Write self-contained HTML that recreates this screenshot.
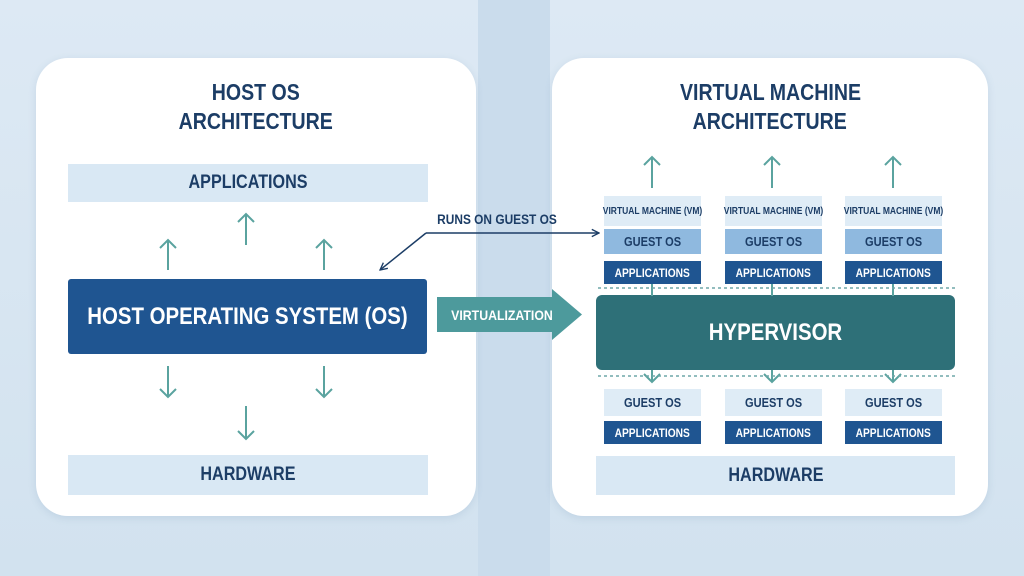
<!DOCTYPE html>
<html><head><style>
body{margin:0;width:1024px;height:576px;overflow:hidden;font-family:"Liberation Sans",sans-serif;background:linear-gradient(180deg,#dde9f4,#d2e2ef);position:relative}
div{position:absolute;box-sizing:border-box;display:flex;align-items:center;justify-content:center;text-align:center;font-weight:bold;white-space:nowrap}
.p{background:#fff;border-radius:32px;box-shadow:0 2px 8px rgba(80,120,160,.15)}
.t{color:#1c3d66;font-size:23px;line-height:29px;flex-direction:column}
.l{background:#d9e8f4;color:#1c3d66;font-size:19px}
.d{background:#1f5591;color:#fff;font-size:12px}
.m{background:#8fb9df;color:#1c3d66;font-size:13px}
.v{background:#dfecf6;color:#1c3d66;font-size:10px}
span{display:inline-block;transform:scaleX(.85);white-space:nowrap}
</style></head><body>
<div style="left:478px;top:0;width:72px;height:576px;background:#cadcec"></div>
<div class="p" style="left:36px;top:58px;width:440px;height:458px"></div>
<div class="p" style="left:552px;top:58px;width:436px;height:458px"></div>
<div class="t" style="left:36px;top:78px;width:440px"><span>HOST OS</span><span>ARCHITECTURE</span></div>
<div class="t" style="left:552px;top:78px;width:436px"><span>VIRTUAL MACHINE</span><span>ARCHITECTURE</span></div>
<div class="l" style="left:68px;top:164px;width:360px;height:38px"><span>APPLICATIONS</span></div>
<div style="left:68px;top:279px;width:359px;height:75px;background:#1f5591;color:#fff;font-size:24px;border-radius:3px"><span>HOST OPERATING SYSTEM (OS)</span></div>
<div class="l" style="left:68px;top:455px;width:360px;height:40px"><span>HARDWARE</span></div>
<div style="left:596px;top:295px;width:359px;height:75px;background:#2e7078;color:#fff;font-size:24px;border-radius:6px"><span>HYPERVISOR</span></div>
<div class="l" style="left:596px;top:456px;width:359px;height:39px"><span>HARDWARE</span></div>
<div class="v" style="left:604px;top:196px;width:97px;height:30px"><span>VIRTUAL MACHINE (VM)</span></div>
<div class="v" style="left:725px;top:196px;width:97px;height:30px"><span>VIRTUAL MACHINE (VM)</span></div>
<div class="v" style="left:845px;top:196px;width:97px;height:30px"><span>VIRTUAL MACHINE (VM)</span></div>
<div class="m" style="left:604px;top:229px;width:97px;height:25px"><span>GUEST OS</span></div>
<div class="m" style="left:725px;top:229px;width:97px;height:25px"><span>GUEST OS</span></div>
<div class="m" style="left:845px;top:229px;width:97px;height:25px"><span>GUEST OS</span></div>
<div class="d" style="left:604px;top:261px;width:97px;height:23px"><span>APPLICATIONS</span></div>
<div class="d" style="left:725px;top:261px;width:97px;height:23px"><span>APPLICATIONS</span></div>
<div class="d" style="left:845px;top:261px;width:97px;height:23px"><span>APPLICATIONS</span></div>
<div class="v" style="left:604px;top:389px;width:97px;height:27px;font-size:13px"><span>GUEST OS</span></div>
<div class="v" style="left:725px;top:389px;width:97px;height:27px;font-size:13px"><span>GUEST OS</span></div>
<div class="v" style="left:845px;top:389px;width:97px;height:27px;font-size:13px"><span>GUEST OS</span></div>
<div class="d" style="left:604px;top:421px;width:97px;height:23px"><span>APPLICATIONS</span></div>
<div class="d" style="left:725px;top:421px;width:97px;height:23px"><span>APPLICATIONS</span></div>
<div class="d" style="left:845px;top:421px;width:97px;height:23px"><span>APPLICATIONS</span></div>
<svg width="1024" height="576" style="position:absolute;left:0;top:0">
<defs><marker id="a" viewBox="0 0 10 10" refX="9" refY="5" markerWidth="6" markerHeight="6" orient="auto"><path d="M1 1L9 5L1 9" fill="none" stroke="#1c3d66" stroke-width="1.5"/></marker></defs>
<g stroke="#5aa39f" stroke-width="2" fill="none">
<path d="M168 270V240M160 248L168 240L176 248"/><path d="M246 245V214M238 222L246 214L254 222"/><path d="M324 270V240M316 248L324 240L332 248"/>
<path d="M168 366V397M160 389L168 397L176 389"/><path d="M324 366V397M316 389L324 397L332 389"/><path d="M246 406V439M238 431L246 439L254 431"/>
<path d="M652 188V157M644 165L652 157L660 165"/><path d="M772 188V157M764 165L772 157L780 165"/><path d="M893 188V157M885 165L893 157L901 165"/>
<path d="M652 284V296M772 284V296M893 284V296"/>
<path d="M652 370V382M644 374L652 382L660 374M772 370V382M764 374L772 382L780 374M893 370V382M885 374L893 382L901 374"/>
</g>
<g stroke="#6fa7a8" stroke-width="1.5" stroke-dasharray="3 3"><path d="M598 288H955M598 376H955"/></g>
<path d="M437 297H552V289L582 314.5L552 340V332H437Z" fill="#4d9a9c"/>
<text x="502" y="320" fill="#fff" font-size="14" font-weight="bold" text-anchor="middle" font-family="Liberation Sans" transform="translate(502 0) scale(.88 1) translate(-502 0)">VIRTUALIZATION</text>
<text x="497" y="224" fill="#1c3d66" font-size="14" font-weight="bold" text-anchor="middle" font-family="Liberation Sans" transform="translate(497 0) scale(.85 1) translate(-497 0)">RUNS ON GUEST OS</text>
<path d="M426 233L380 270" stroke="#1c3d66" stroke-width="1.5" fill="none" marker-end="url(#a)"/>
<path d="M426 233H599" stroke="#1c3d66" stroke-width="1.5" fill="none" marker-end="url(#a)"/>
</svg>
</body></html>
